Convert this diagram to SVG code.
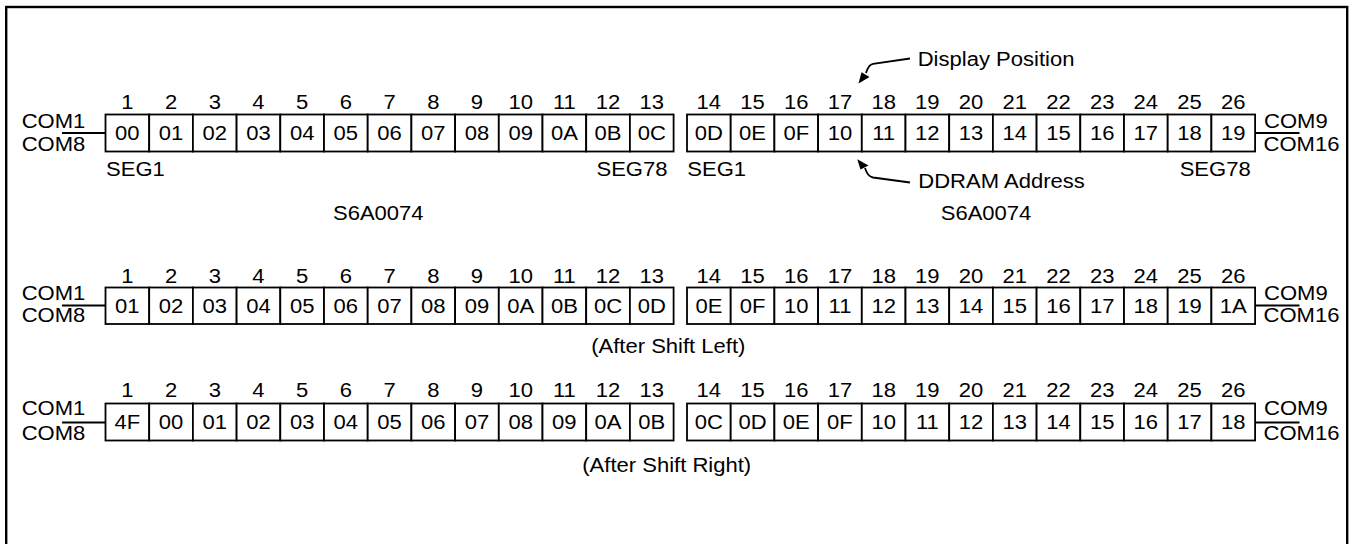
<svg xmlns="http://www.w3.org/2000/svg" width="1353" height="544" viewBox="0 0 1353 544">
<style>
text{font-family:"Liberation Sans",Arial,sans-serif;font-size:19.5px;fill:#000}
.m{text-anchor:middle}
.e{text-anchor:end}
.c{fill:#fff;stroke:#000;stroke-width:1.8}
.ln{fill:none;stroke:#000;stroke-width:1.8}
.ah{fill:#000;stroke:none}
</style>
<rect id="border" x="6.2" y="7" width="1341" height="560" fill="#fff" stroke="#000" stroke-width="2.4"/>

<g id="connectors">
<path class="ln" d="M62 133H105.5M1255.1 133H1299.5"/>
<path class="ln" d="M62 305.5H105.5M1255.1 305.5H1299.5"/>
<path class="ln" d="M62 422.5H105.5M1255.1 422.5H1299.5"/>
<path class="ln" d="M910 58.5L873 63.8Q868.5 64.5 866 73"/>
<polygon class="ah" points="858.5,83.5 861.5,72.3 869.5,77"/>
<path class="ln" d="M910 182.5L873 177.5Q867.5 176.5 865 168"/>
<polygon class="ah" points="857.3,159.3 860.5,169.5 868.5,165.5"/>
</g>

<g id="labels-row1">
<text transform="translate(21.7,128) scale(1.13,1)">COM1</text>
<text transform="translate(21.7,150.5) scale(1.13,1)">COM8</text>
<text transform="translate(1264,127.5) scale(1.13,1)">COM9</text>
<text transform="translate(1263.5,150.5) scale(1.13,1)">COM16</text>
<text transform="translate(106,175.5) scale(1.13,1)">SEG1</text>
<text class="e" transform="translate(667.5,175.5) scale(1.13,1)">SEG78</text>
<text transform="translate(687.3,175.5) scale(1.13,1)">SEG1</text>
<text class="e" transform="translate(1250.7,175.5) scale(1.13,1)">SEG78</text>
<text class="m" transform="translate(378.3,219.5) scale(1.13,1)">S6A0074</text>
<text class="m" transform="translate(986,219.5) scale(1.13,1)">S6A0074</text>
<text transform="translate(917.7,66) scale(1.13,1)">Display Position</text>
<text transform="translate(918.3,187.5) scale(1.13,1)">DDRAM Address</text>
</g>

<g id="labels-row2">
<text transform="translate(21.7,299.5) scale(1.13,1)">COM1</text>
<text transform="translate(21.7,321.5) scale(1.13,1)">COM8</text>
<text transform="translate(1264,299.5) scale(1.13,1)">COM9</text>
<text transform="translate(1263.5,322) scale(1.13,1)">COM16</text>
<text class="m" transform="translate(668.3,353) scale(1.13,1)">(After Shift Left)</text>
</g>

<g id="labels-row3">
<text transform="translate(21.7,415) scale(1.13,1)">COM1</text>
<text transform="translate(21.7,440) scale(1.13,1)">COM8</text>
<text transform="translate(1264,415) scale(1.13,1)">COM9</text>
<text transform="translate(1263.5,440) scale(1.13,1)">COM16</text>
<text class="m" transform="translate(666.7,471.5) scale(1.13,1)">(After Shift Right)</text>
</g>

<g id="cols-row1">
<text class="m" transform="translate(127.35,108.5) scale(1.13,1)">1</text>
<text class="m" transform="translate(171.05,108.5) scale(1.13,1)">2</text>
<text class="m" transform="translate(214.75,108.5) scale(1.13,1)">3</text>
<text class="m" transform="translate(258.45,108.5) scale(1.13,1)">4</text>
<text class="m" transform="translate(302.15,108.5) scale(1.13,1)">5</text>
<text class="m" transform="translate(345.85,108.5) scale(1.13,1)">6</text>
<text class="m" transform="translate(389.55,108.5) scale(1.13,1)">7</text>
<text class="m" transform="translate(433.25,108.5) scale(1.13,1)">8</text>
<text class="m" transform="translate(476.95,108.5) scale(1.13,1)">9</text>
<text class="m" transform="translate(520.65,108.5) scale(1.13,1)">10</text>
<text class="m" transform="translate(564.35,108.5) scale(1.13,1)">11</text>
<text class="m" transform="translate(608.05,108.5) scale(1.13,1)">12</text>
<text class="m" transform="translate(651.75,108.5) scale(1.13,1)">13</text>
<text class="m" transform="translate(708.85,108.5) scale(1.13,1)">14</text>
<text class="m" transform="translate(752.55,108.5) scale(1.13,1)">15</text>
<text class="m" transform="translate(796.25,108.5) scale(1.13,1)">16</text>
<text class="m" transform="translate(839.95,108.5) scale(1.13,1)">17</text>
<text class="m" transform="translate(883.65,108.5) scale(1.13,1)">18</text>
<text class="m" transform="translate(927.35,108.5) scale(1.13,1)">19</text>
<text class="m" transform="translate(971.05,108.5) scale(1.13,1)">20</text>
<text class="m" transform="translate(1014.75,108.5) scale(1.13,1)">21</text>
<text class="m" transform="translate(1058.45,108.5) scale(1.13,1)">22</text>
<text class="m" transform="translate(1102.15,108.5) scale(1.13,1)">23</text>
<text class="m" transform="translate(1145.85,108.5) scale(1.13,1)">24</text>
<text class="m" transform="translate(1189.55,108.5) scale(1.13,1)">25</text>
<text class="m" transform="translate(1233.25,108.5) scale(1.13,1)">26</text>
</g>

<g id="cols-row2">
<text class="m" transform="translate(127.35,282.5) scale(1.13,1)">1</text>
<text class="m" transform="translate(171.05,282.5) scale(1.13,1)">2</text>
<text class="m" transform="translate(214.75,282.5) scale(1.13,1)">3</text>
<text class="m" transform="translate(258.45,282.5) scale(1.13,1)">4</text>
<text class="m" transform="translate(302.15,282.5) scale(1.13,1)">5</text>
<text class="m" transform="translate(345.85,282.5) scale(1.13,1)">6</text>
<text class="m" transform="translate(389.55,282.5) scale(1.13,1)">7</text>
<text class="m" transform="translate(433.25,282.5) scale(1.13,1)">8</text>
<text class="m" transform="translate(476.95,282.5) scale(1.13,1)">9</text>
<text class="m" transform="translate(520.65,282.5) scale(1.13,1)">10</text>
<text class="m" transform="translate(564.35,282.5) scale(1.13,1)">11</text>
<text class="m" transform="translate(608.05,282.5) scale(1.13,1)">12</text>
<text class="m" transform="translate(651.75,282.5) scale(1.13,1)">13</text>
<text class="m" transform="translate(708.85,282.5) scale(1.13,1)">14</text>
<text class="m" transform="translate(752.55,282.5) scale(1.13,1)">15</text>
<text class="m" transform="translate(796.25,282.5) scale(1.13,1)">16</text>
<text class="m" transform="translate(839.95,282.5) scale(1.13,1)">17</text>
<text class="m" transform="translate(883.65,282.5) scale(1.13,1)">18</text>
<text class="m" transform="translate(927.35,282.5) scale(1.13,1)">19</text>
<text class="m" transform="translate(971.05,282.5) scale(1.13,1)">20</text>
<text class="m" transform="translate(1014.75,282.5) scale(1.13,1)">21</text>
<text class="m" transform="translate(1058.45,282.5) scale(1.13,1)">22</text>
<text class="m" transform="translate(1102.15,282.5) scale(1.13,1)">23</text>
<text class="m" transform="translate(1145.85,282.5) scale(1.13,1)">24</text>
<text class="m" transform="translate(1189.55,282.5) scale(1.13,1)">25</text>
<text class="m" transform="translate(1233.25,282.5) scale(1.13,1)">26</text>
</g>

<g id="cols-row3">
<text class="m" transform="translate(127.35,397) scale(1.13,1)">1</text>
<text class="m" transform="translate(171.05,397) scale(1.13,1)">2</text>
<text class="m" transform="translate(214.75,397) scale(1.13,1)">3</text>
<text class="m" transform="translate(258.45,397) scale(1.13,1)">4</text>
<text class="m" transform="translate(302.15,397) scale(1.13,1)">5</text>
<text class="m" transform="translate(345.85,397) scale(1.13,1)">6</text>
<text class="m" transform="translate(389.55,397) scale(1.13,1)">7</text>
<text class="m" transform="translate(433.25,397) scale(1.13,1)">8</text>
<text class="m" transform="translate(476.95,397) scale(1.13,1)">9</text>
<text class="m" transform="translate(520.65,397) scale(1.13,1)">10</text>
<text class="m" transform="translate(564.35,397) scale(1.13,1)">11</text>
<text class="m" transform="translate(608.05,397) scale(1.13,1)">12</text>
<text class="m" transform="translate(651.75,397) scale(1.13,1)">13</text>
<text class="m" transform="translate(708.85,397) scale(1.13,1)">14</text>
<text class="m" transform="translate(752.55,397) scale(1.13,1)">15</text>
<text class="m" transform="translate(796.25,397) scale(1.13,1)">16</text>
<text class="m" transform="translate(839.95,397) scale(1.13,1)">17</text>
<text class="m" transform="translate(883.65,397) scale(1.13,1)">18</text>
<text class="m" transform="translate(927.35,397) scale(1.13,1)">19</text>
<text class="m" transform="translate(971.05,397) scale(1.13,1)">20</text>
<text class="m" transform="translate(1014.75,397) scale(1.13,1)">21</text>
<text class="m" transform="translate(1058.45,397) scale(1.13,1)">22</text>
<text class="m" transform="translate(1102.15,397) scale(1.13,1)">23</text>
<text class="m" transform="translate(1145.85,397) scale(1.13,1)">24</text>
<text class="m" transform="translate(1189.55,397) scale(1.13,1)">25</text>
<text class="m" transform="translate(1233.25,397) scale(1.13,1)">26</text>
</g>

<g id="row1">
<g id="r1c1"><rect class="c" x="105.5" y="114.5" width="43.7" height="37"/><text class="m" transform="translate(127.35,139.5) scale(1.13,1)">00</text></g>
<g id="r1c2"><rect class="c" x="149.2" y="114.5" width="43.7" height="37"/><text class="m" transform="translate(171.05,139.5) scale(1.13,1)">01</text></g>
<g id="r1c3"><rect class="c" x="192.9" y="114.5" width="43.7" height="37"/><text class="m" transform="translate(214.75,139.5) scale(1.13,1)">02</text></g>
<g id="r1c4"><rect class="c" x="236.6" y="114.5" width="43.7" height="37"/><text class="m" transform="translate(258.45,139.5) scale(1.13,1)">03</text></g>
<g id="r1c5"><rect class="c" x="280.3" y="114.5" width="43.7" height="37"/><text class="m" transform="translate(302.15,139.5) scale(1.13,1)">04</text></g>
<g id="r1c6"><rect class="c" x="324" y="114.5" width="43.7" height="37"/><text class="m" transform="translate(345.85,139.5) scale(1.13,1)">05</text></g>
<g id="r1c7"><rect class="c" x="367.7" y="114.5" width="43.7" height="37"/><text class="m" transform="translate(389.55,139.5) scale(1.13,1)">06</text></g>
<g id="r1c8"><rect class="c" x="411.4" y="114.5" width="43.7" height="37"/><text class="m" transform="translate(433.25,139.5) scale(1.13,1)">07</text></g>
<g id="r1c9"><rect class="c" x="455.1" y="114.5" width="43.7" height="37"/><text class="m" transform="translate(476.95,139.5) scale(1.13,1)">08</text></g>
<g id="r1c10"><rect class="c" x="498.8" y="114.5" width="43.7" height="37"/><text class="m" transform="translate(520.65,139.5) scale(1.13,1)">09</text></g>
<g id="r1c11"><rect class="c" x="542.5" y="114.5" width="43.7" height="37"/><text class="m" transform="translate(564.35,139.5) scale(1.13,1)">0A</text></g>
<g id="r1c12"><rect class="c" x="586.2" y="114.5" width="43.7" height="37"/><text class="m" transform="translate(608.05,139.5) scale(1.13,1)">0B</text></g>
<g id="r1c13"><rect class="c" x="629.9" y="114.5" width="43.7" height="37"/><text class="m" transform="translate(651.75,139.5) scale(1.13,1)">0C</text></g>
<g id="r1c14"><rect class="c" x="687" y="114.5" width="43.7" height="37"/><text class="m" transform="translate(708.85,139.5) scale(1.13,1)">0D</text></g>
<g id="r1c15"><rect class="c" x="730.7" y="114.5" width="43.7" height="37"/><text class="m" transform="translate(752.55,139.5) scale(1.13,1)">0E</text></g>
<g id="r1c16"><rect class="c" x="774.4" y="114.5" width="43.7" height="37"/><text class="m" transform="translate(796.25,139.5) scale(1.13,1)">0F</text></g>
<g id="r1c17"><rect class="c" x="818.1" y="114.5" width="43.7" height="37"/><text class="m" transform="translate(839.95,139.5) scale(1.13,1)">10</text></g>
<g id="r1c18"><rect class="c" x="861.8" y="114.5" width="43.7" height="37"/><text class="m" transform="translate(883.65,139.5) scale(1.13,1)">11</text></g>
<g id="r1c19"><rect class="c" x="905.5" y="114.5" width="43.7" height="37"/><text class="m" transform="translate(927.35,139.5) scale(1.13,1)">12</text></g>
<g id="r1c20"><rect class="c" x="949.2" y="114.5" width="43.7" height="37"/><text class="m" transform="translate(971.05,139.5) scale(1.13,1)">13</text></g>
<g id="r1c21"><rect class="c" x="992.9" y="114.5" width="43.7" height="37"/><text class="m" transform="translate(1014.75,139.5) scale(1.13,1)">14</text></g>
<g id="r1c22"><rect class="c" x="1036.6" y="114.5" width="43.7" height="37"/><text class="m" transform="translate(1058.45,139.5) scale(1.13,1)">15</text></g>
<g id="r1c23"><rect class="c" x="1080.3" y="114.5" width="43.7" height="37"/><text class="m" transform="translate(1102.15,139.5) scale(1.13,1)">16</text></g>
<g id="r1c24"><rect class="c" x="1124" y="114.5" width="43.7" height="37"/><text class="m" transform="translate(1145.85,139.5) scale(1.13,1)">17</text></g>
<g id="r1c25"><rect class="c" x="1167.7" y="114.5" width="43.7" height="37"/><text class="m" transform="translate(1189.55,139.5) scale(1.13,1)">18</text></g>
<g id="r1c26"><rect class="c" x="1211.4" y="114.5" width="43.7" height="37"/><text class="m" transform="translate(1233.25,139.5) scale(1.13,1)">19</text></g>
</g>

<g id="row2">
<g id="r2c1"><rect class="c" x="105.5" y="287.5" width="43.7" height="36.5"/><text class="m" transform="translate(127.35,313) scale(1.13,1)">01</text></g>
<g id="r2c2"><rect class="c" x="149.2" y="287.5" width="43.7" height="36.5"/><text class="m" transform="translate(171.05,313) scale(1.13,1)">02</text></g>
<g id="r2c3"><rect class="c" x="192.9" y="287.5" width="43.7" height="36.5"/><text class="m" transform="translate(214.75,313) scale(1.13,1)">03</text></g>
<g id="r2c4"><rect class="c" x="236.6" y="287.5" width="43.7" height="36.5"/><text class="m" transform="translate(258.45,313) scale(1.13,1)">04</text></g>
<g id="r2c5"><rect class="c" x="280.3" y="287.5" width="43.7" height="36.5"/><text class="m" transform="translate(302.15,313) scale(1.13,1)">05</text></g>
<g id="r2c6"><rect class="c" x="324" y="287.5" width="43.7" height="36.5"/><text class="m" transform="translate(345.85,313) scale(1.13,1)">06</text></g>
<g id="r2c7"><rect class="c" x="367.7" y="287.5" width="43.7" height="36.5"/><text class="m" transform="translate(389.55,313) scale(1.13,1)">07</text></g>
<g id="r2c8"><rect class="c" x="411.4" y="287.5" width="43.7" height="36.5"/><text class="m" transform="translate(433.25,313) scale(1.13,1)">08</text></g>
<g id="r2c9"><rect class="c" x="455.1" y="287.5" width="43.7" height="36.5"/><text class="m" transform="translate(476.95,313) scale(1.13,1)">09</text></g>
<g id="r2c10"><rect class="c" x="498.8" y="287.5" width="43.7" height="36.5"/><text class="m" transform="translate(520.65,313) scale(1.13,1)">0A</text></g>
<g id="r2c11"><rect class="c" x="542.5" y="287.5" width="43.7" height="36.5"/><text class="m" transform="translate(564.35,313) scale(1.13,1)">0B</text></g>
<g id="r2c12"><rect class="c" x="586.2" y="287.5" width="43.7" height="36.5"/><text class="m" transform="translate(608.05,313) scale(1.13,1)">0C</text></g>
<g id="r2c13"><rect class="c" x="629.9" y="287.5" width="43.7" height="36.5"/><text class="m" transform="translate(651.75,313) scale(1.13,1)">0D</text></g>
<g id="r2c14"><rect class="c" x="687" y="287.5" width="43.7" height="36.5"/><text class="m" transform="translate(708.85,313) scale(1.13,1)">0E</text></g>
<g id="r2c15"><rect class="c" x="730.7" y="287.5" width="43.7" height="36.5"/><text class="m" transform="translate(752.55,313) scale(1.13,1)">0F</text></g>
<g id="r2c16"><rect class="c" x="774.4" y="287.5" width="43.7" height="36.5"/><text class="m" transform="translate(796.25,313) scale(1.13,1)">10</text></g>
<g id="r2c17"><rect class="c" x="818.1" y="287.5" width="43.7" height="36.5"/><text class="m" transform="translate(839.95,313) scale(1.13,1)">11</text></g>
<g id="r2c18"><rect class="c" x="861.8" y="287.5" width="43.7" height="36.5"/><text class="m" transform="translate(883.65,313) scale(1.13,1)">12</text></g>
<g id="r2c19"><rect class="c" x="905.5" y="287.5" width="43.7" height="36.5"/><text class="m" transform="translate(927.35,313) scale(1.13,1)">13</text></g>
<g id="r2c20"><rect class="c" x="949.2" y="287.5" width="43.7" height="36.5"/><text class="m" transform="translate(971.05,313) scale(1.13,1)">14</text></g>
<g id="r2c21"><rect class="c" x="992.9" y="287.5" width="43.7" height="36.5"/><text class="m" transform="translate(1014.75,313) scale(1.13,1)">15</text></g>
<g id="r2c22"><rect class="c" x="1036.6" y="287.5" width="43.7" height="36.5"/><text class="m" transform="translate(1058.45,313) scale(1.13,1)">16</text></g>
<g id="r2c23"><rect class="c" x="1080.3" y="287.5" width="43.7" height="36.5"/><text class="m" transform="translate(1102.15,313) scale(1.13,1)">17</text></g>
<g id="r2c24"><rect class="c" x="1124" y="287.5" width="43.7" height="36.5"/><text class="m" transform="translate(1145.85,313) scale(1.13,1)">18</text></g>
<g id="r2c25"><rect class="c" x="1167.7" y="287.5" width="43.7" height="36.5"/><text class="m" transform="translate(1189.55,313) scale(1.13,1)">19</text></g>
<g id="r2c26"><rect class="c" x="1211.4" y="287.5" width="43.7" height="36.5"/><text class="m" transform="translate(1233.25,313) scale(1.13,1)">1A</text></g>
</g>

<g id="row3">
<g id="r3c1"><rect class="c" x="105.5" y="403.5" width="43.7" height="37"/><text class="m" transform="translate(127.35,428.7) scale(1.13,1)">4F</text></g>
<g id="r3c2"><rect class="c" x="149.2" y="403.5" width="43.7" height="37"/><text class="m" transform="translate(171.05,428.7) scale(1.13,1)">00</text></g>
<g id="r3c3"><rect class="c" x="192.9" y="403.5" width="43.7" height="37"/><text class="m" transform="translate(214.75,428.7) scale(1.13,1)">01</text></g>
<g id="r3c4"><rect class="c" x="236.6" y="403.5" width="43.7" height="37"/><text class="m" transform="translate(258.45,428.7) scale(1.13,1)">02</text></g>
<g id="r3c5"><rect class="c" x="280.3" y="403.5" width="43.7" height="37"/><text class="m" transform="translate(302.15,428.7) scale(1.13,1)">03</text></g>
<g id="r3c6"><rect class="c" x="324" y="403.5" width="43.7" height="37"/><text class="m" transform="translate(345.85,428.7) scale(1.13,1)">04</text></g>
<g id="r3c7"><rect class="c" x="367.7" y="403.5" width="43.7" height="37"/><text class="m" transform="translate(389.55,428.7) scale(1.13,1)">05</text></g>
<g id="r3c8"><rect class="c" x="411.4" y="403.5" width="43.7" height="37"/><text class="m" transform="translate(433.25,428.7) scale(1.13,1)">06</text></g>
<g id="r3c9"><rect class="c" x="455.1" y="403.5" width="43.7" height="37"/><text class="m" transform="translate(476.95,428.7) scale(1.13,1)">07</text></g>
<g id="r3c10"><rect class="c" x="498.8" y="403.5" width="43.7" height="37"/><text class="m" transform="translate(520.65,428.7) scale(1.13,1)">08</text></g>
<g id="r3c11"><rect class="c" x="542.5" y="403.5" width="43.7" height="37"/><text class="m" transform="translate(564.35,428.7) scale(1.13,1)">09</text></g>
<g id="r3c12"><rect class="c" x="586.2" y="403.5" width="43.7" height="37"/><text class="m" transform="translate(608.05,428.7) scale(1.13,1)">0A</text></g>
<g id="r3c13"><rect class="c" x="629.9" y="403.5" width="43.7" height="37"/><text class="m" transform="translate(651.75,428.7) scale(1.13,1)">0B</text></g>
<g id="r3c14"><rect class="c" x="687" y="403.5" width="43.7" height="37"/><text class="m" transform="translate(708.85,428.7) scale(1.13,1)">0C</text></g>
<g id="r3c15"><rect class="c" x="730.7" y="403.5" width="43.7" height="37"/><text class="m" transform="translate(752.55,428.7) scale(1.13,1)">0D</text></g>
<g id="r3c16"><rect class="c" x="774.4" y="403.5" width="43.7" height="37"/><text class="m" transform="translate(796.25,428.7) scale(1.13,1)">0E</text></g>
<g id="r3c17"><rect class="c" x="818.1" y="403.5" width="43.7" height="37"/><text class="m" transform="translate(839.95,428.7) scale(1.13,1)">0F</text></g>
<g id="r3c18"><rect class="c" x="861.8" y="403.5" width="43.7" height="37"/><text class="m" transform="translate(883.65,428.7) scale(1.13,1)">10</text></g>
<g id="r3c19"><rect class="c" x="905.5" y="403.5" width="43.7" height="37"/><text class="m" transform="translate(927.35,428.7) scale(1.13,1)">11</text></g>
<g id="r3c20"><rect class="c" x="949.2" y="403.5" width="43.7" height="37"/><text class="m" transform="translate(971.05,428.7) scale(1.13,1)">12</text></g>
<g id="r3c21"><rect class="c" x="992.9" y="403.5" width="43.7" height="37"/><text class="m" transform="translate(1014.75,428.7) scale(1.13,1)">13</text></g>
<g id="r3c22"><rect class="c" x="1036.6" y="403.5" width="43.7" height="37"/><text class="m" transform="translate(1058.45,428.7) scale(1.13,1)">14</text></g>
<g id="r3c23"><rect class="c" x="1080.3" y="403.5" width="43.7" height="37"/><text class="m" transform="translate(1102.15,428.7) scale(1.13,1)">15</text></g>
<g id="r3c24"><rect class="c" x="1124" y="403.5" width="43.7" height="37"/><text class="m" transform="translate(1145.85,428.7) scale(1.13,1)">16</text></g>
<g id="r3c25"><rect class="c" x="1167.7" y="403.5" width="43.7" height="37"/><text class="m" transform="translate(1189.55,428.7) scale(1.13,1)">17</text></g>
<g id="r3c26"><rect class="c" x="1211.4" y="403.5" width="43.7" height="37"/><text class="m" transform="translate(1233.25,428.7) scale(1.13,1)">18</text></g>
</g>
</svg>
